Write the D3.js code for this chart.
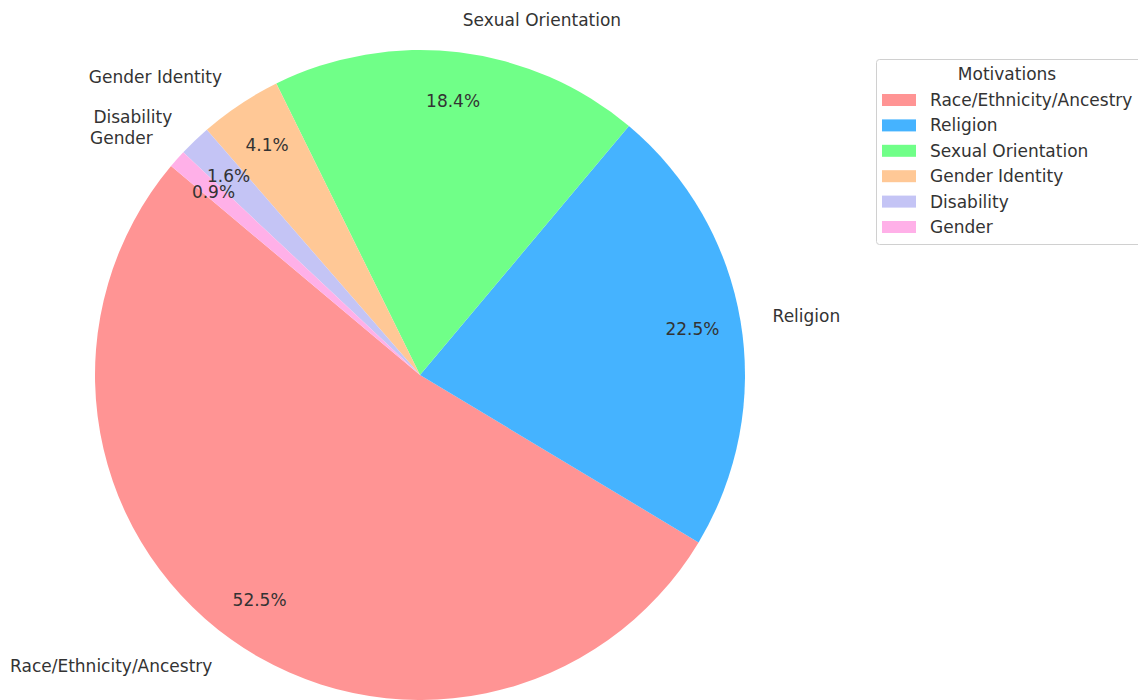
<!DOCTYPE html>
<html>
<head>
<meta charset="utf-8">
<script src="https://cdn.jsdelivr.net/npm/d3@7"></script>
<style>
  body { margin: 0; background: #fff; }
  svg { display: block; font-family: "DejaVu Sans", sans-serif; }
</style>
</head>
<body>
<svg id="chart" width="1138" height="700"></svg>
<script>
const categories = ["Race/Ethnicity/Ancestry", "Religion", "Sexual Orientation", "Gender Identity", "Disability", "Gender"];
const values = [52.5, 22.5, 18.4, 4.1, 1.6, 0.9];
const colors = ["#ff9494", "#45b3ff", "#70ff88", "#ffc896", "#c4c4f5", "#ffb0e8"];
const legendTitle = "Motivations";

const svg = d3.select("#chart");
const cx = 420, cy = 375, R = 325;
const startAngleDeg = 140;
const fs = 17;

// matplotlib-style: counterclockwise from startangle (math angle)
const total = d3.sum(values);
const angleScale = d3.scaleLinear().domain([0, total]).range([0, 360]);
let cum = 0;
const slices = values.map((v, i) => {
  const a0 = startAngleDeg + angleScale(cum);
  cum += v;
  const a1 = startAngleDeg + angleScale(cum);
  return { i, v, a0, a1 };
});
const toD3 = deg => (90 - deg) * Math.PI / 180;
const arc = d3.arc().innerRadius(0).outerRadius(R);

const g = svg.append("g").attr("transform", `translate(${cx},${cy})`);
g.selectAll("path.slice").data(slices).join("path")
  .attr("class", "slice")
  .attr("d", d => arc({ startAngle: toD3(d.a1), endAngle: toD3(d.a0) }))
  .attr("fill", d => colors[d.i]);

slices.forEach(d => {
  const mid = (d.a0 + d.a1) / 2 * Math.PI / 180;
  const lx = 1.1 * R * Math.cos(mid), ly = -1.1 * R * Math.sin(mid);
  g.append("text")
    .attr("x", lx).attr("y", ly)
    .attr("text-anchor", lx > 0 ? "start" : "end")
    .attr("dominant-baseline", "central")
    .attr("font-size", fs).attr("fill", "#333")
    .text(categories[d.i]);
  const px = 0.85 * R * Math.cos(mid), py = -0.85 * R * Math.sin(mid);
  g.append("text")
    .attr("x", px).attr("y", py)
    .attr("text-anchor", "middle")
    .attr("dominant-baseline", "central")
    .attr("font-size", fs).attr("fill", "#333")
    .text(d.v.toFixed(1) + "%");
});

// legend
const lg = svg.append("g").attr("transform", "translate(876,59)");
lg.append("rect").attr("x", 0.5).attr("y", 0.5).attr("width", 275).attr("height", 185)
  .attr("rx", 3).attr("fill", "#fff").attr("stroke", "#d0d0d0");
lg.append("text").attr("x", 131).attr("y", 15).attr("text-anchor", "middle")
  .attr("dominant-baseline", "central").attr("font-size", fs).attr("fill", "#333").text(legendTitle);
const row = d3.scaleLinear().domain([0, 1]).range([41, 66.4]);
categories.forEach((c, i) => {
  lg.append("rect").attr("x", 6).attr("y", row(i) - 6).attr("width", 34).attr("height", 12).attr("fill", colors[i]);
  lg.append("text").attr("x", 54).attr("y", row(i)).attr("dominant-baseline", "central")
    .attr("font-size", fs).attr("fill", "#333").text(c);
});
</script>
</body>
</html>
